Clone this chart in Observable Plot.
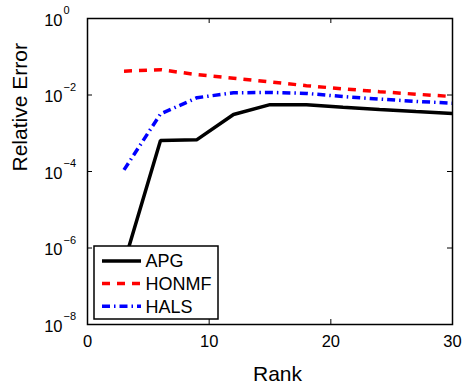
<!DOCTYPE html>
<html>
<head>
<meta charset="utf-8">
<script src="https://cdn.jsdelivr.net/npm/d3@7"></script>
<script src="https://cdn.jsdelivr.net/npm/@observablehq/plot@0.6"></script>
<style>
  html, body { margin: 0; padding: 0; background: #fff; }
  #wrap { position: relative; width: 466px; height: 387px; font-family: "Liberation Sans", Arial, Helvetica, sans-serif; }
  #legend { position: absolute; left: 0; top: 0; pointer-events: none; }
</style>
</head>
<body>
<div id="wrap"></div>
<script>
// ---- data ----
const ranks = [3, 6, 9, 12, 15, 18, 21, 24, 27, 30];
const apg   = [4e-7, 6.5e-4, 6.8e-4, 3.1e-3, 5.6e-3, 5.6e-3, 4.8e-3, 4.2e-3, 3.7e-3, 3.3e-3];
const honmf = [4.2e-2, 4.6e-2, 3.4e-2, 2.75e-2, 2.2e-2, 1.75e-2, 1.45e-2, 1.22e-2, 1.05e-2, 9.1e-3];
const hals  = [1.1e-4, 3.2e-3, 8.5e-3, 1.14e-2, 1.17e-2, 1.1e-2, 9.1e-3, 7.8e-3, 6.8e-3, 6.1e-3];

const seriesNames  = ["APG", "HONMF", "HALS"];
const seriesColors = ["#000000", "#ff0000", "#0000ff"];
const seriesDash   = [null, "8,7", "8,4,1.5,4"];

const xTicks = [0, 10, 20, 30];
const yTicks = [1e-8, 1e-6, 1e-4, 1e-2, 1e0];
const yExponents = ["\u22128", "\u22126", "\u22124", "\u22122", "0"];
const xLabel = "Rank";
const yLabel = "Relative Error";

const seriesValues = [apg, honmf, hals];
const rows = seriesNames.map((name, i) => ranks.map((r, j) => ({series: name, rank: r, value: seriesValues[i][j]})));

const font = "Liberation Sans, Arial, Helvetica, sans-serif";

const lineMarks = rows.map((data, i) => Plot.line(data, {
  x: "rank", y: "value",
  stroke: seriesColors[i], strokeWidth: 3.5,
  strokeDasharray: seriesDash[i] || undefined,
  strokeLinejoin: "miter", strokeLinecap: "butt"
}));

const chart = Plot.plot({
  width: 466, height: 387,
  marginLeft: 87, marginRight: 14, marginTop: 18, marginBottom: 63,
  style: {fontFamily: font, background: "white", color: "black"},
  x: {domain: [0, 30], axis: null},
  y: {type: "log", domain: [1e-8, 1], axis: null},
  marks: [
    ...lineMarks,
    // inward ticks on all four sides
    Plot.tickX(xTicks, {x: d => d, stroke: "black", strokeWidth: 1, insetTop: 301}),
    Plot.tickX(xTicks, {x: d => d, stroke: "black", strokeWidth: 1, insetBottom: 301}),
    Plot.tickY(yTicks, {y: d => d, stroke: "black", strokeWidth: 1, insetRight: 360}),
    Plot.tickY(yTicks, {y: d => d, stroke: "black", strokeWidth: 1, insetLeft: 360}),
    Plot.frame({stroke: "black", strokeWidth: 1.5}),
    // x tick labels
    Plot.text(xTicks, {x: d => d, frameAnchor: "bottom", dy: 17, text: d => String(d), fontSize: 16.5, fill: "black", lineAnchor: "middle"}),
    // y tick labels: 10^k
    Plot.text(yTicks, {y: d => d, frameAnchor: "left", dx: -25, dy: 2, text: () => "10", textAnchor: "end", fontSize: 16.5, fill: "black", lineAnchor: "middle"}),
    Plot.text(yTicks, {y: d => d, frameAnchor: "left", dx: -24, dy: -8, text: (d, i) => yExponents[i], textAnchor: "start", fontSize: 11, fill: "black", lineAnchor: "middle"}),
    // axis labels
    Plot.text([xLabel], {frameAnchor: "bottom", dx: 7.5, dy: 50, text: d => d, fontSize: 21, fill: "black", lineAnchor: "middle"}),
    Plot.text([yLabel], {frameAnchor: "left", dx: -67, text: d => d, rotate: -90, fontSize: 21, fill: "black", lineAnchor: "middle"})
  ]
});

const wrap = document.getElementById("wrap");
wrap.appendChild(chart);

// legend overlay (MATLAB-style boxed legend)
const ns = "http://www.w3.org/2000/svg";
const lg = document.createElementNS(ns, "svg");
lg.setAttribute("id", "legend");
lg.setAttribute("width", 466);
lg.setAttribute("height", 387);
const box = document.createElementNS(ns, "rect");
box.setAttribute("x", 94); box.setAttribute("y", 246);
box.setAttribute("width", 124); box.setAttribute("height", 73);
box.setAttribute("fill", "white"); box.setAttribute("stroke", "black"); box.setAttribute("stroke-width", 1.5);
lg.appendChild(box);
seriesNames.forEach((name, i) => {
  const cy = 261 + i * 22.6;
  const ln = document.createElementNS(ns, "line");
  ln.setAttribute("x1", 102); ln.setAttribute("x2", 141);
  ln.setAttribute("y1", cy); ln.setAttribute("y2", cy);
  ln.setAttribute("stroke", seriesColors[i]); ln.setAttribute("stroke-width", 3.5);
  if (seriesDash[i]) ln.setAttribute("stroke-dasharray", seriesDash[i]);
  lg.appendChild(ln);
  const t = document.createElementNS(ns, "text");
  t.setAttribute("x", 145.5); t.setAttribute("y", cy);
  t.setAttribute("dy", "0.35em");
  t.setAttribute("font-family", font); t.setAttribute("font-size", 18);
  t.setAttribute("fill", "black");
  t.textContent = name;
  lg.appendChild(t);
});
wrap.appendChild(lg);
</script>
</body>
</html>
